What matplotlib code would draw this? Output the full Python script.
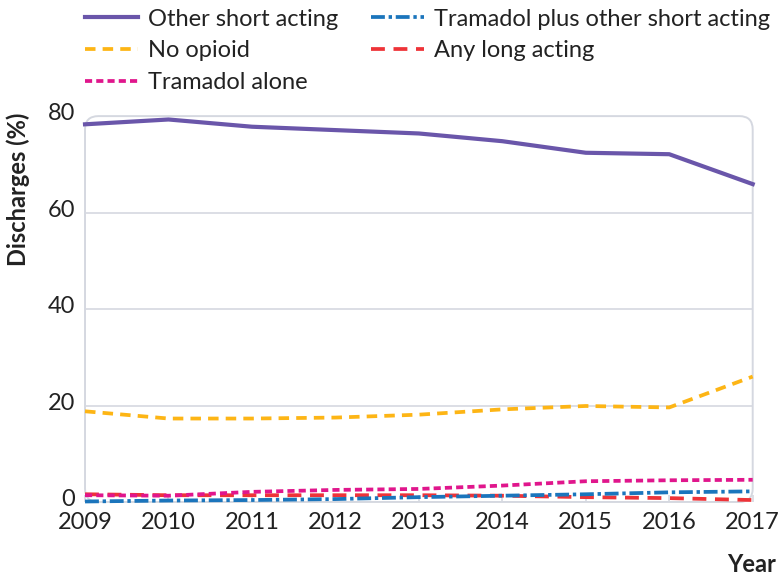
import numpy as np
import matplotlib.pyplot as plt
from matplotlib.patches import FancyBboxPatch
from matplotlib.transforms import ScaledTranslation

plt.rcParams['font.family'] = ['Lato', 'DejaVu Sans']

years = [2009, 2010, 2011, 2012, 2013, 2014, 2015, 2016, 2017]

other_short = [78.3, 79.3, 77.8, 77.1, 76.4, 74.8, 72.4, 72.1, 65.9]
no_opioid = [18.8, 17.3, 17.3, 17.5, 18.1, 19.2, 19.9, 19.6, 26.0]
tramadol_alone = [1.4, 1.3, 2.1, 2.5, 2.7, 3.4, 4.3, 4.5, 4.6]
tramadol_plus = [0.1, 0.3, 0.4, 0.6, 1.0, 1.3, 1.6, 2.0, 2.2]
long_acting = [1.6, 1.4, 1.4, 1.4, 1.4, 1.3, 1.0, 0.8, 0.4]

y_ticks = [0, 20, 40, 60, 80]

grey = '#d5d8e0'
txt = '#222222'
fs = 17

fig = plt.figure(figsize=(7.8, 5.82), dpi=100)
ax = fig.add_axes([0.109, 0.1375, 0.856, 0.663])

# series (purple on top)
ax.plot(years, no_opioid, color='#fdb515', lw=2.7, dashes=(2.8, 1.9),
        label='No opioid', clip_on=False, zorder=3)
ax.plot(years, long_acting, color='#ee3338', lw=2.7, dashes=(3.7, 2.3),
        label='Any long acting', clip_on=False, zorder=3)
ax.plot(years, tramadol_plus, color='#1b75bc', lw=2.7, dashes=(3.7, 1.0, 0.9, 1.0),
        label='Tramadol plus other short acting', clip_on=False, zorder=3)
ax.plot(years, tramadol_alone, color='#e0168c', lw=2.7, dashes=(1.9, 1.1),
        label='Tramadol alone', clip_on=False, zorder=3)
ax.plot(years, other_short, color='#6a56aa', lw=3.0,
        label='Other short acting', clip_on=False, zorder=4)

ax.set_xlim(2009, 2017)
ax.set_ylim(0, 80)
ax.set_xticks(years)
ax.set_yticks(y_ticks)

for v in y_ticks[1:-1]:
    ax.axhline(v, color=grey, lw=1.2, zorder=1)

for s in ax.spines.values():
    s.set_visible(False)
frame = FancyBboxPatch((0, 0), 1, 1, boxstyle='round,pad=0,rounding_size=0.02',
                       mutation_aspect=668 / 386, transform=ax.transAxes,
                       facecolor='none', edgecolor=grey, lw=1.4, zorder=1,
                       clip_on=False)
ax.add_patch(frame)

ax.tick_params(axis='y', length=0, pad=7, labelsize=fs, labelcolor=txt)
ax.tick_params(axis='x', direction='in', length=5, color=grey, width=1.2,
               pad=7, labelsize=fs, labelcolor=txt)
# nudge y labels up a touch like the original
shift = ScaledTranslation(0, 3 / 72, fig.dpi_scale_trans)
for lab in ax.get_yticklabels():
    lab.set_transform(lab.get_transform() + shift)

fig.text(0.023, 0.674, 'Discharges (%)', rotation=90, ha='center', va='center',
         fontsize=fs, fontweight='bold', color=txt)
fig.text(0.963, 0.03, 'Year', ha='center', va='center',
         fontsize=fs, fontweight='bold', color=txt)

h, l = ax.get_legend_handles_labels()
order = [4, 0, 3, 2, 1]
fig.legend([h[i] for i in order], [l[i] for i in order], ncol=2,
           loc='upper left', bbox_to_anchor=(0.109, 0.985), frameon=False,
           borderpad=0, borderaxespad=0,
           fontsize=fs, handlelength=2.25, handletextpad=0.42,
           columnspacing=1.4, labelspacing=0.45, labelcolor=txt)

fig.savefig('out.png', dpi=100)
